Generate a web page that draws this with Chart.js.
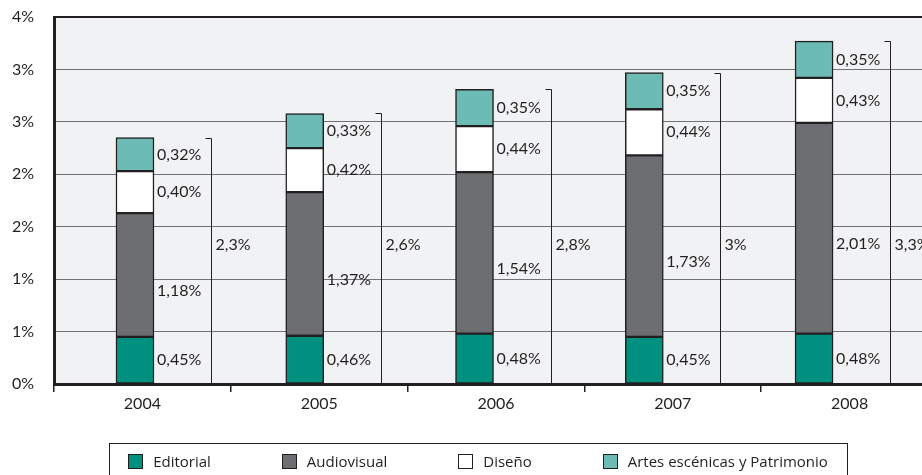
<!DOCTYPE html>
<html>
<head>
<meta charset="utf-8">
<script src="https://cdn.jsdelivr.net/npm/chart.js@4"></script>
<style>
  html, body { margin: 0; padding: 0; background: #fff; overflow: hidden; }
  #wrap { width: 960px; height: 475px; }
</style>
</head>
<body>
<div id="wrap"><canvas id="chart" width="960" height="475"></canvas></div>
<script>
const years = ["2004", "2005", "2006", "2007", "2008"];
const editorial = [0.45, 0.46, 0.48, 0.45, 0.48];
const audiovisual = [1.18, 1.37, 1.54, 1.73, 2.01];
const diseno = [0.40, 0.42, 0.44, 0.44, 0.43];
const artes = [0.32, 0.33, 0.35, 0.35, 0.35];
const totals = [2.3, 2.6, 2.8, 3, 3.3];
const yTicks = [0, 0.5, 1, 1.5, 2, 2.5, 3, 3.5];

const ink = "#231f20";
const numFont = "16px Lato";

// bars sit on an own (hidden) index axis, years are shown on the category axis
function toPoints(arr) {
    return arr.map((v, i) => ({ x: i, y: v }));
}

function fmt(v, digits) {
    return v.toFixed(digits).replace(".", ",") + "%";
}

function fmtTotal(v) {
    return String(v).replace(".", ",") + "%";
}

const plotBg = {
    id: "plotBg",
    beforeDraw(chart) {
        const { ctx, chartArea: a } = chart;
        ctx.save();
        ctx.fillStyle = "#f1f2f4";
        ctx.fillRect(a.left, a.top, a.right - a.left, a.bottom - a.top);
        ctx.restore();
    }
};

const annotate = {
    id: "annotate",
    afterDatasetsDraw(chart) {
        const { ctx, chartArea: a, scales } = chart;
        ctx.save();
        ctx.font = numFont;
        ctx.fillStyle = ink;
        ctx.textAlign = "left";
        ctx.textBaseline = "middle";

        // value next to every segment
        chart.data.datasets.forEach((ds, di) => {
            chart.getDatasetMeta(di).data.forEach((bar, i) => {
                const p = bar.getProps(["x", "y", "base", "width"], true);
                const y = (p.y + p.base) / 2 + (ds.labelShift || 0);
                ctx.fillText(fmt(ds.data[i].y, 2), p.x + p.width / 2 + 3, y);
            });
        });

        // bracket + total to the right of each bar
        const topMeta = chart.getDatasetMeta(chart.data.datasets.length - 1);
        const totalY = scales.y.getPixelForValue(1.33);
        ctx.strokeStyle = ink;
        ctx.lineWidth = 1;
        topMeta.data.forEach((bar, i) => {
            const bx = Math.round(bar.x + 76) + 0.5;
            const top = Math.round(bar.y) + 0.5;
            ctx.beginPath();
            ctx.moveTo(bx - 6, top);
            ctx.lineTo(bx, top);
            ctx.lineTo(bx, a.bottom);
            ctx.stroke();
            ctx.fillText(fmtTotal(totals[i]), bx + 4, totalY);
        });
        ctx.restore();
    }
};

const boxLegend = {
    id: "boxLegend",
    afterDraw(chart) {
        const ctx = chart.ctx;
        const sq = 14, gapText = 11, gapItem = 71, pad = 19;
        const cx = 478, cy = 462;
        ctx.save();
        ctx.font = "15px 'Open Sans'";
        const items = chart.data.datasets.map(ds => ({
            ds: ds,
            w: sq + gapText + ctx.measureText(ds.label).width
        }));
        const inner = items.reduce((s, it) => s + it.w, 0) + gapItem * (items.length - 1);
        let x = cx - inner / 2;

        ctx.strokeStyle = ink;
        ctx.lineWidth = 1;
        ctx.strokeRect(Math.round(x - pad) + 0.5, 443.5, Math.round(inner + pad * 2), 60);

        ctx.textAlign = "left";
        ctx.textBaseline = "middle";
        items.forEach(it => {
            const sx = Math.round(x) + 0.5;
            ctx.fillStyle = it.ds.backgroundColor;
            ctx.fillRect(sx, cy - sq / 2 - 0.5, sq, sq);
            ctx.strokeStyle = ink;
            ctx.strokeRect(sx, cy - sq / 2 - 0.5, sq, sq);
            ctx.fillStyle = ink;
            ctx.fillText(it.ds.label, x + sq + gapText, cy + 1);
            x += it.w + gapItem;
        });
        ctx.restore();
    }
};

const segment = (label, values, color, extra) => Object.assign({
    label: label,
    data: toPoints(values),
    backgroundColor: color,
    borderColor: ink,
    borderWidth: 1.5,
    borderSkipped: false,
    barThickness: 38,
    xAxisID: "xb",
    yAxisID: "y"
}, extra || {});

function draw() {
    new Chart(document.getElementById("chart").getContext("2d"), {
        type: "bar",
        data: {
            labels: years,
            datasets: [
                segment("Editorial", editorial, "#00907f"),
                segment("Audiovisual", audiovisual, "#6d6e71", { labelShift: 16 }),
                segment("Diseño", diseno, "#ffffff"),
                segment("Artes escénicas y Patrimonio", artes, "#6dbbb5")
            ]
        },
        options: {
            responsive: false,
            animation: false,
            layout: { padding: { top: 17, right: 22, bottom: 61, left: 0 } },
            plugins: {
                legend: { display: false },
                tooltip: { enabled: false }
            },
            scales: {
                xb: {
                    type: "linear",
                    display: false,
                    stacked: true,
                    offset: false,
                    grid: { offset: false },
                    min: -0.477,
                    max: 4.73
                },
                x: {
                    type: "category",
                    position: "bottom",
                    offset: true,
                    grid: {
                        offset: true,
                        drawOnChartArea: false,
                        drawTicks: true,
                        tickLength: 8,
                        color: ink,
                        lineWidth: 1.5
                    },
                    border: { display: true, width: 3, color: ink },
                    ticks: {
                        font: { family: "Lato", size: 16 },
                        color: ink,
                        padding: 2,
                        maxRotation: 0
                    },
                    afterFit(scale) { scale.height = 30; }
                },
                y: {
                    stacked: true,
                    min: 0,
                    max: 3.5,
                    afterBuildTicks(scale) {
                        scale.ticks = yTicks.map(v => ({ value: v }));
                    },
                    afterFit(scale) {
                        scale.width = 54;
                        scale.paddingTop = 0;
                        scale.paddingBottom = 0;
                    },
                    grid: {
                        drawTicks: false,
                        color: c => (c.tick && c.tick.value === 3.5 ? ink : "#717275"),
                        lineWidth: c => (c.tick && c.tick.value === 3.5 ? 2 : 1)
                    },
                    border: { display: true, width: 3, color: ink },
                    ticks: {
                        font: { family: "Lato", size: 16 },
                        color: ink,
                        padding: 20,
                        callback: v => Math.round(v) + "%"
                    }
                }
            }
        },
        plugins: [plotBg, annotate, boxLegend]
    });
}

Promise.all([
    document.fonts.load("16px Lato"),
    document.fonts.load("15px 'Open Sans'")
]).then(draw, draw);
</script>
</body>
</html>
